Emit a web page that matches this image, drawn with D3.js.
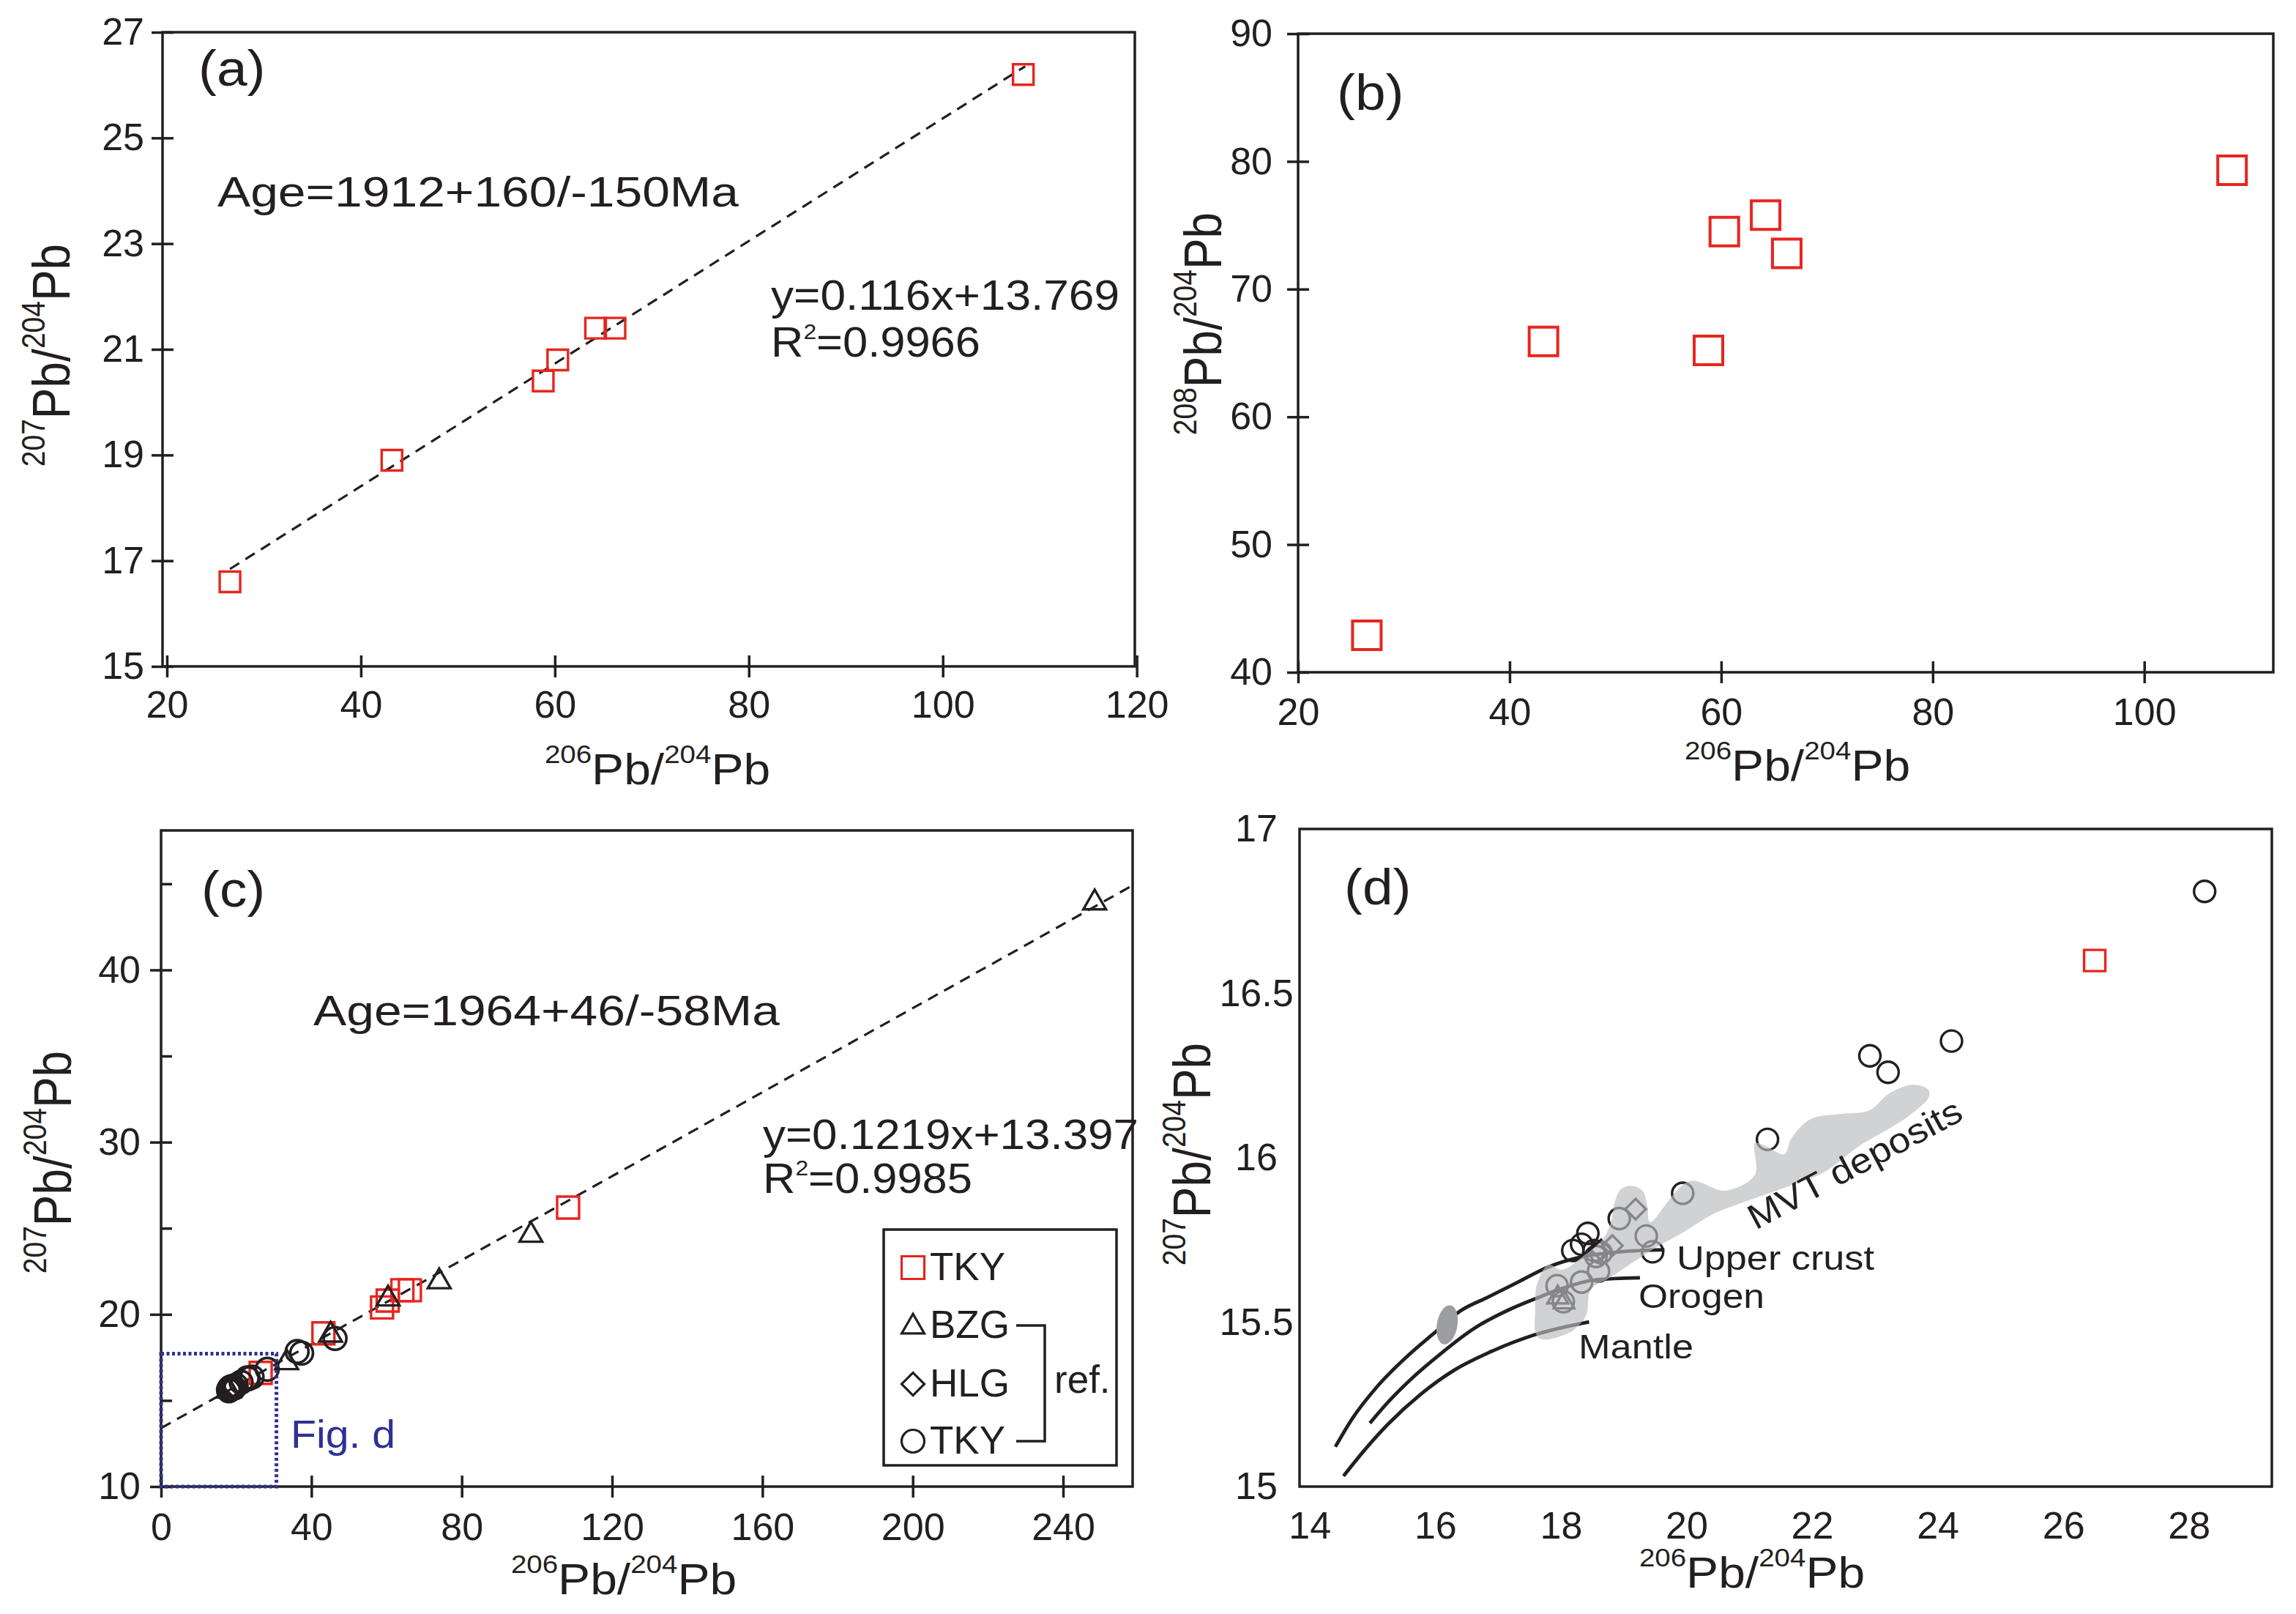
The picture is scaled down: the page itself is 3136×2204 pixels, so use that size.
<!DOCTYPE html>
<html>
<head>
<meta charset="utf-8">
<script src="https://cdn.jsdelivr.net/npm/d3@7"></script>
<style>
  body { margin: 0; background: #ffffff; }
  svg { display: block; }
</style>
</head>
<body>
<svg id="chart" width="3136" height="2204"></svg>
<script>
// ---------------- DATA ----------------
// This study (TKY, red squares)
const tkyPb206 = [26.5, 43.2, 58.8, 60.3, 64.2, 66.2, 108.3];
const tkyPb207 = [16.6, 18.9, 20.4, 20.8, 21.4, 21.4, 26.2];
const tkyPb208 = [42.9, 65.9, 65.2, 74.5, 75.8, 72.8, 79.3];

// Reference data: BZG (triangles)
const bzgPb206 = [248.4, 98.4, 74.0, 60.4, 45.1, 33.4, 17.95, 18.05];
const bzgPb207 = [43.9, 24.6, 21.9, 20.9, 18.8, 17.2, 15.575, 15.56];

// Reference data: HLG (diamonds)
const hlgPb206 = [19.19, 18.82, 18.64];
const hlgPb207 = [15.844, 15.733, 15.72];

// Reference data: TKY (circles)
const refTkyPb206 = [28.25, 24.22, 22.92, 23.21, 21.29, 19.94, 18.93, 18.43, 18.33, 18.19, 19.36, 19.46,
                     18.53, 18.64, 18.56, 18.60, 18.33, 17.94, 18.04, 36.2, 37.4, 46.3];
const refTkyPb207 = [16.81, 16.355, 16.31, 16.26, 16.056, 15.892, 15.815, 15.77, 15.737, 15.718, 15.762, 15.714,
                     15.718, 15.711, 15.70, 15.655, 15.622, 15.611, 15.562, 17.84, 17.75, 18.6];

// Regression lines (as labelled in the figure)
const fitA = { slope: 0.116, intercept: 13.769, from: 26.5, to: 108.5 };
const fitC = { slope: 0.1219, intercept: 13.397, from: 0, to: 258.5 };

// Fig. d extent box shown in (c)
const figDBoxX = [0, 30.7];
const figDBoxY = [10, 17.72];

// Pb evolution curves (panel d)
const upperCrustX = [14.41, 14.68, 15.07, 15.53, 16.02, 16.39, 16.85, 17.32, 17.79, 18.37, 18.95, 19.65];
const upperCrustY = [15.121, 15.207, 15.303, 15.392, 15.473, 15.533, 15.577, 15.622, 15.667, 15.700, 15.714, 15.720];
const orogenX = [14.96, 15.26, 15.65, 16.08, 16.62, 17.20, 17.67, 17.98, 18.56, 19.26];
const orogenY = [15.193, 15.259, 15.333, 15.403, 15.481, 15.540, 15.577, 15.600, 15.629, 15.635];
const mantleX = [14.54, 14.87, 15.26, 15.77, 16.31, 16.93, 17.59, 18.45];
const mantleY = [15.032, 15.110, 15.192, 15.281, 15.355, 15.414, 15.462, 15.501];

// MVT deposits field outline (panel d)
const mvtX = [17.69, 17.60, 17.59, 17.62, 17.80, 18.02, 18.37, 18.68, 18.80, 18.86, 18.95, 19.11, 19.30, 19.38, 19.42,
              20.04, 20.62, 21.09, 21.09, 21.25, 21.56, 21.67, 21.98, 22.45, 22.91, 23.23, 23.61, 23.85, 23.86,
              23.58, 23.23, 22.76, 22.18, 21.59, 21.05, 20.43, 19.92, 19.53, 18.76, 18.48, 18.40, 18.21, 18.02];
const mvtY = [15.448, 15.466, 15.533, 15.615, 15.675, 15.659, 15.703, 15.755, 15.807, 15.866, 15.903, 15.915, 15.900, 15.851, 15.805,
              15.929, 15.900, 15.948, 16.044, 16.037, 16.011, 16.059, 16.118, 16.133, 16.144, 16.196, 16.222, 16.207, 16.185,
              16.133, 16.089, 16.037, 15.955, 15.911, 15.874, 15.829, 15.770, 15.729, 15.633, 15.600, 15.520, 15.477, 15.459];

// small dark field on the upper crust curve
const darkFieldCenter = [16.19, 15.492];

// Tick values
const ticksAx = [20, 40, 60, 80, 100, 120];
const ticksAy = [15, 17, 19, 21, 23, 25, 27];
const ticksBx = [20, 40, 60, 80, 100];
const ticksBy = [40, 50, 60, 70, 80, 90];
const ticksCx = [0, 40, 80, 120, 160, 200, 240];
const ticksCy = [10, 20, 30, 40];
const ticksCyMinor = [15, 25, 35, 45];
const ticksDx = [14, 16, 18, 20, 22, 24, 26, 28];
const ticksDy = [15, 15.5, 16, 16.5, 17];

// ---------------- DRAWING ----------------
const FONT = '"Liberation Sans", Arial, Helvetica, sans-serif';
const INK = '#231f20';
const RED = '#e8251e';
const BLUE = '#2e3192';
const svg = d3.select('#chart');
svg.append('rect').attr('width', 3136).attr('height', 2204).attr('fill', '#fff');

function zip(a, b) { return a.map((v, i) => [v, b[i]]); }

function richText(g, x, y, parts, o) {
  const sx = o.sx || 1;
  let tr = `translate(${x},${y}) scale(${sx},1)`;
  if (o.rot) tr += ` rotate(${o.rot})`;
  const t = g.append('text')
    .attr('transform', tr)
    .attr('text-anchor', o.anchor || 'start')
    .attr('font-family', FONT)
    .attr('fill', o.color || INK)
    .style('font-size', o.size + 'px');
  if (o.len) t.attr('textLength', o.rot ? o.len : o.len / sx).attr('lengthAdjust', 'spacingAndGlyphs');
  let cur = 0;
  parts.forEach(p => {
    const s = t.append('tspan').text(p.t);
    const target = p.sup ? -o.raise : 0;
    s.attr('dy', target - cur);
    cur = target;
    if (p.sup) s.style('font-size', o.supSize + 'px');
  });
  return t;
}

function makePanel(p) {
  const g = svg.append('g');
  const x = d3.scaleLinear().domain(p.xd).range([p.L, p.R]);
  const y = d3.scaleLinear().domain(p.yd).range([p.B, p.T]);
  const id = 'clip-' + p.name;
  svg.append('clipPath').attr('id', id)
    .append('rect').attr('x', p.L).attr('y', p.T).attr('width', p.R - p.L).attr('height', p.B - p.T);
  const plot = g.append('g').attr('clip-path', `url(#${id})`);
  return { g, x, y, plot, p };
}

function styleAxis(sel) {
  sel.select('.domain').remove();
  sel.attr('font-family', FONT).attr('font-size', 52);
  sel.selectAll('line').attr('stroke', INK).attr('stroke-width', 3.5);
  sel.selectAll('text').attr('fill', INK);
}

function drawAxes(P, o) {
  const { g, x, y, p } = P;
  const fmt = d => String(d);
  const inner = o.inner === undefined ? 15 : o.inner;
  g.append('g').attr('transform', `translate(0,${p.B})`)
    .call(d3.axisBottom(x).tickValues(o.xt).tickSize(o.xOut).tickPadding(o.xPad).tickFormat(fmt))
    .call(styleAxis);
  const ya = g.append('g').attr('transform', `translate(${p.L},0)`)
    .call(d3.axisLeft(y).tickValues(o.yt).tickSize(o.yOut).tickPadding(o.yPad).tickFormat(fmt))
    .call(styleAxis);
  if (o.yAnchor) ya.selectAll('text').attr('text-anchor', o.yAnchor).attr('x', o.yLabelX);
  if (inner > 0) {
    g.append('g').attr('transform', `translate(0,${p.B})`)
      .call(d3.axisTop(x).tickValues(o.xt).tickSize(inner).tickFormat(''))
      .call(styleAxis);
    g.append('g').attr('transform', `translate(${p.L},0)`)
      .call(d3.axisRight(y).tickValues(o.yt).tickSize(inner).tickFormat(''))
      .call(styleAxis);
  }
  if (o.yMinor) {
    g.append('g').attr('transform', `translate(${p.L},0)`)
      .call(d3.axisRight(y).tickValues(o.yMinor).tickSize(15).tickFormat(''))
      .call(styleAxis);
  }
  if (o.noTickLines) g.selectAll('.tick line').remove();
}

function drawFrame(P) {
  const p = P.p;
  P.g.append('rect').attr('x', p.L).attr('y', p.T).attr('width', p.R - p.L).attr('height', p.B - p.T)
    .attr('fill', 'none').attr('stroke', INK).attr('stroke-width', 3.5);
}

function markers(parent, x, y, pts, type, side, color, sw) {
  if (type === 'circle') {
    parent.selectAll(null).data(pts).join('circle')
      .attr('cx', d => x(d[0])).attr('cy', d => y(d[1])).attr('r', side / 2)
      .attr('fill', 'none').attr('stroke', color).attr('stroke-width', sw);
    return;
  }
  let sym;
  if (type === 'square') sym = d3.symbol().type(d3.symbolSquare).size(side * side);
  else if (type === 'diamond') sym = d3.symbol().type(d3.symbolSquare).size(side * side / 2);
  else sym = d3.symbol().type(d3.symbolTriangle).size(Math.sqrt(3) / 4 * side * side);
  parent.selectAll(null).data(pts).join('path')
    .attr('transform', d => `translate(${x(d[0])},${y(d[1])})` + (type === 'diamond' ? ' rotate(45)' : ''))
    .attr('d', sym)
    .attr('fill', 'none').attr('stroke', color).attr('stroke-width', sw).attr('stroke-linejoin', 'miter');
}

function xTitle(g, cx, by) {
  richText(g, cx, by, [{ t: '206', sup: true }, { t: 'Pb/' }, { t: '204', sup: true }, { t: 'Pb' }],
    { size: 60, supSize: 35, raise: 29, anchor: 'middle', sx: 1.1 });
}
function yTitle(g, bx, cy, num) {
  richText(g, bx, cy, [{ t: num, sup: true }, { t: 'Pb/' }, { t: '204', sup: true }, { t: 'Pb' }],
    { size: 64, supSize: 39, raise: 30, anchor: 'middle', sx: 1.12, rot: -90 });
}
function panelLabel(g, x, y, s) {
  richText(g, x, y, [{ t: s }], { size: 68, sx: 1.1 });
}

// ---------- Panel (a) ----------
const A = makePanel({ name: 'a', L: 222, R: 1550, T: 44, B: 910, xd: [19.55, 119.8], yd: [15, 27] });
drawAxes(A, { xt: ticksAx, yt: ticksAy, xOut: 15, xPad: 18, yOut: 15, yPad: 10 });
A.plot.append('path')
  .datum([fitA.from, fitA.to])
  .attr('d', d3.line().x(v => A.x(v)).y(v => A.y(fitA.slope * v + fitA.intercept)))
  .attr('stroke', INK).attr('stroke-width', 3.2).attr('stroke-dasharray', '15,10').attr('fill', 'none');
markers(A.plot, A.x, A.y, zip(tkyPb206, tkyPb207), 'square', 28, RED, 3.4);
drawFrame(A);
panelLabel(A.g, 271, 117, '(a)');
richText(A.g, 297, 282, [{ t: 'Age=1912+160/-150Ma' }], { size: 58, len: 712 });
richText(A.g, 1053, 423, [{ t: 'y=0.116x+13.769' }], { size: 58, len: 476 });
richText(A.g, 1053, 487, [{ t: 'R' }, { t: '2', sup: true }, { t: '=0.9966' }], { size: 58, supSize: 30, raise: 24, len: 286 });
xTitle(A.g, 898, 1071);
yTitle(A.g, 95, 485, '207');

// ---------- Panel (b) ----------
const B = makePanel({ name: 'b', L: 1773, R: 3105, T: 46, B: 918, xd: [20, 112.2], yd: [40, 90] });
drawAxes(B, { xt: ticksBx, yt: ticksBy, xOut: 15, xPad: 20, yOut: 15, yPad: 20 });
markers(B.plot, B.x, B.y, zip(tkyPb206, tkyPb208), 'square', 39, RED, 4);
drawFrame(B);
panelLabel(B.g, 1826, 150, '(b)');
xTitle(B.g, 2455, 1066);
yTitle(B.g, 1668, 442, '208');

// ---------- Panel (c) ----------
const C = makePanel({ name: 'c', L: 220, R: 1547, T: 1134, B: 2030, xd: [0, 258.5], yd: [10, 48.1] });
drawAxes(C, { xt: ticksCx, yt: ticksCy, yMinor: ticksCyMinor, xOut: 15, xPad: 21, yOut: 15, yPad: 13 });
C.plot.append('path')
  .datum([fitC.from, fitC.to])
  .attr('d', d3.line().x(v => C.x(v)).y(v => C.y(fitC.slope * v + fitC.intercept)))
  .attr('stroke', INK).attr('stroke-width', 3.2).attr('stroke-dasharray', '15,10').attr('fill', 'none');
markers(C.plot, C.x, C.y, zip(tkyPb206, tkyPb207), 'square', 30, RED, 3.4);
markers(C.plot, C.x, C.y, zip(bzgPb206, bzgPb207), 'triangle', 31, INK, 3.4);
markers(C.plot, C.x, C.y, zip(hlgPb206, hlgPb207), 'diamond', 30, INK, 3.4);
markers(C.plot, C.x, C.y, zip(refTkyPb206, refTkyPb207), 'circle', 31, INK, 3.6);
drawFrame(C);
// Fig. d box
C.g.append('rect')
  .attr('x', C.x(figDBoxX[0])).attr('y', C.y(figDBoxY[1]))
  .attr('width', C.x(figDBoxX[1]) - C.x(figDBoxX[0])).attr('height', C.y(figDBoxY[0]) - C.y(figDBoxY[1]))
  .attr('fill', 'none').attr('stroke', BLUE).attr('stroke-width', 5).attr('stroke-dasharray', '4,3.5');
richText(C.g, 397, 1977, [{ t: 'Fig. d' }], { size: 53, len: 143, color: BLUE });
panelLabel(C.g, 275, 1238, '(c)');
richText(C.g, 428, 1400, [{ t: 'Age=1964+46/-58Ma' }], { size: 58, len: 637 });
richText(C.g, 1042, 1569, [{ t: 'y=0.1219x+13.397' }], { size: 58, len: 513 });
richText(C.g, 1042, 1629, [{ t: 'R' }, { t: '2', sup: true }, { t: '=0.9985' }], { size: 58, supSize: 30, raise: 24, len: 286 });
// legend
const leg = C.g.append('g');
leg.append('rect').attr('x', 1207).attr('y', 1679).attr('width', 318).attr('height', 322)
  .attr('fill', '#fff').attr('stroke', INK).attr('stroke-width', 3.5);
const legItems = [
  { type: 'square', label: 'TKY', color: RED, cy: 1731, base: 1748 },
  { type: 'triangle', label: 'BZG', color: INK, cy: 1812, base: 1827 },
  { type: 'diamond', label: 'HLG', color: INK, cy: 1890, base: 1907 },
  { type: 'circle', label: 'TKY', color: INK, cy: 1968, base: 1985 }
];
const ident = d3.scaleLinear();
legItems.forEach(it => {
  markers(leg, ident, ident, [[1247, it.cy]], it.type, 31, it.color, 3.2);
  richText(leg, 1270, it.base, [{ t: it.label }], { size: 53 });
});
leg.append('path').attr('d', 'M1388,1810 H1427 V1968 H1388')
  .attr('fill', 'none').attr('stroke', INK).attr('stroke-width', 3.5);
richText(leg, 1440, 1902, [{ t: 'ref.' }], { size: 53 });
xTitle(C.g, 852, 2177);
yTitle(C.g, 97, 1587, '207');

// ---------- Panel (d) ----------
const D = makePanel({ name: 'd', L: 1775, R: 3103, T: 1132, B: 2030, xd: [13.84, 29.32], yd: [15, 17] });
drawAxes(D, { xt: ticksDx, yt: ticksDy, xOut: 0, xPad: 34, yOut: 0, yPad: 0, inner: 0,
              yAnchor: 'middle', yLabelX: 1716 - 1775, noTickLines: true });
const curveLine = d3.line().x(d => D.x(d[0])).y(d => D.y(d[1])).curve(d3.curveMonotoneX);
[[upperCrustX, upperCrustY], [orogenX, orogenY], [mantleX, mantleY]].forEach(([xs, ys]) => {
  D.plot.append('path').datum(zip(xs, ys)).attr('d', curveLine)
    .attr('fill', 'none').attr('stroke', INK).attr('stroke-width', 4.8).attr('stroke-linecap', 'butt');
});
D.plot.append('ellipse')
  .attr('cx', D.x(darkFieldCenter[0])).attr('cy', D.y(darkFieldCenter[1]))
  .attr('rx', 14).attr('ry', 27)
  .attr('transform', `rotate(10,${D.x(darkFieldCenter[0])},${D.y(darkFieldCenter[1])})`)
  .attr('fill', '#9d9ea2');
markers(D.plot, D.x, D.y, zip(tkyPb206, tkyPb207), 'square', 29, RED, 3.4);
markers(D.plot, D.x, D.y, zip(bzgPb206, bzgPb207), 'triangle', 28, INK, 3.3);
markers(D.plot, D.x, D.y, zip(hlgPb206, hlgPb207), 'diamond', 28, INK, 3.3);
markers(D.plot, D.x, D.y, zip(refTkyPb206, refTkyPb207), 'circle', 29, INK, 3.4);
D.plot.append('path').datum(zip(mvtX, mvtY))
  .attr('d', d3.line().x(d => D.x(d[0])).y(d => D.y(d[1])).curve(d3.curveCatmullRomClosed.alpha(0.5)))
  .attr('fill', '#b9babd').attr('fill-opacity', 0.66).attr('stroke', 'none');
drawFrame(D);
panelLabel(D.g, 1836, 1235, '(d)');
richText(D.g, 2290, 1734, [{ t: 'Upper crust' }], { size: 46, len: 270 });
richText(D.g, 2238, 1786, [{ t: 'Orogen' }], { size: 46, len: 172 });
richText(D.g, 2156, 1855, [{ t: 'Mantle' }], { size: 46, len: 157 });
richText(D.g, 2398, 1680, [{ t: 'MVT deposits' }], { size: 48, len: 324, rot: -28 });
xTitle(D.g, 2393, 2168);
yTitle(D.g, 1653, 1576, '207');
</script>
</body>
</html>
